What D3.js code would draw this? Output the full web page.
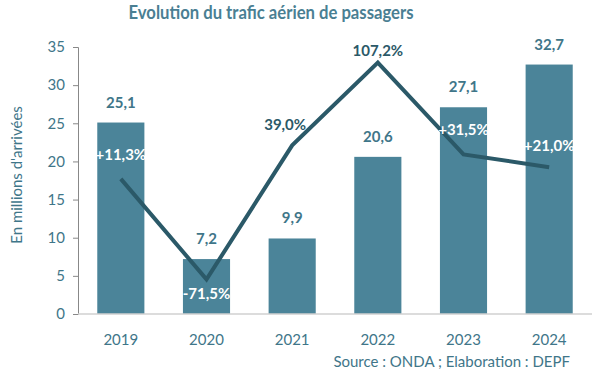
<!DOCTYPE html>
<html>
<head>
<meta charset="utf-8">
<script src="https://cdn.jsdelivr.net/npm/d3@7"></script>
<style>
  body { margin: 0; background: #fff; }
  svg { display: block; font-family: Lato, "Open Sans", sans-serif; }
</style>
</head>
<body>
<svg id="chart" width="600" height="372"></svg>
<script>
const years = ["2019", "2020", "2021", "2022", "2023", "2024"];
const passengers = [25.1, 7.2, 9.9, 20.6, 27.1, 32.7];
const growth = [11.3, -71.5, 39.0, 107.2, 31.5, 21.0];
const growthLabels = ["+11,3%", "-71,5%", "39,0%", "107,2%", "+31,5%", "+21,0%"];
const yTicks = [0, 5, 10, 15, 20, 25, 30, 35];

const barColor = "#4b8499";
const lineColor = "#2b5968";
const textColor = "#3f7689";

const svg = d3.select("#chart");
const margin = { top: 47, right: 8, bottom: 58, left: 78 };
const width = 600;
const height = 372;

const x = d3.scaleBand()
  .domain(years)
  .range([margin.left, width - margin.right])
  .paddingInner(0.45)
  .paddingOuter(0.225);

const y = d3.scaleLinear()
  .domain([0, 35])
  .range([height - margin.bottom, margin.top]);

// hidden secondary axis for the growth line
const y2 = d3.scaleLinear()
  .domain([-100, 120])
  .range([height - margin.bottom, margin.top]);

// title
svg.append("text")
  .attr("x", 271)
  .attr("y", 19)
  .attr("text-anchor", "middle")
  .attr("font-size", 19)
  .attr("font-weight", "bold")
  .attr("fill", "#4a7f93")
  .attr("textLength", 285)
  .attr("lengthAdjust", "spacingAndGlyphs")
  .text("Evolution du trafic aérien de passagers");

// y axis
const yAxis = svg.append("g")
  .attr("transform", `translate(${margin.left},0)`)
  .call(d3.axisLeft(y).tickValues(yTicks).tickSize(5).tickPadding(8));
yAxis.selectAll("path, line").attr("stroke", "#888");
yAxis.selectAll("text")
  .attr("fill", textColor)
  .attr("font-size", 15)
  .attr("font-family", "Lato, sans-serif");

svg.append("text")
  .attr("transform", "translate(22,175) rotate(-90)")
  .attr("text-anchor", "middle")
  .attr("font-size", 15)
  .attr("fill", textColor)
  .text("En millions d'arrivées");

// bars
svg.selectAll(".bar")
  .data(passengers)
  .enter()
  .append("rect")
  .attr("class", "bar")
  .attr("x", (d, i) => x(years[i]))
  .attr("y", (d) => y(d))
  .attr("width", x.bandwidth())
  .attr("height", (d) => y(0) - y(d))
  .attr("fill", barColor);

// baseline
svg.append("line")
  .attr("x1", margin.left)
  .attr("x2", width - margin.right)
  .attr("y1", y(0))
  .attr("y2", y(0))
  .attr("stroke", "#d0d0d0")
  .attr("stroke-width", 1.5);

// x labels
svg.selectAll(".xlab")
  .data(years)
  .enter()
  .append("text")
  .attr("class", "xlab")
  .attr("x", (d) => x(d) + x.bandwidth() / 2)
  .attr("y", y(0) + 31)
  .attr("text-anchor", "middle")
  .attr("font-size", 15)
  .attr("fill", textColor)
  .text((d) => d);

// bar value labels
svg.selectAll(".vlab")
  .data(passengers)
  .enter()
  .append("text")
  .attr("class", "vlab")
  .attr("x", (d, i) => x(years[i]) + x.bandwidth() / 2)
  .attr("y", (d) => y(d) - 15)
  .attr("text-anchor", "middle")
  .attr("font-size", 15)
  .attr("font-weight", "bold")
  .attr("fill", textColor)
  .text((d) => d3.format(".1f")(d).replace(".", ","));

// growth line
const line = d3.line()
  .x((d, i) => x(years[i]) + x.bandwidth() / 2)
  .y((d) => y2(d));

svg.append("path")
  .datum(growth)
  .attr("d", line)
  .attr("fill", "none")
  .attr("stroke", lineColor)
  .attr("stroke-width", 4)
  .attr("stroke-linejoin", "miter");

// growth labels: offsets relative to each point
const labelOffsets = [[0, -19], [0, 20], [-7, -15], [0, -7], [0, -19], [0, -16]];
const labelColors = ["#fff", "#fff", lineColor, lineColor, "#fff", "#fff"];

svg.selectAll(".glab")
  .data(growth)
  .enter()
  .append("text")
  .attr("class", "glab")
  .attr("x", (d, i) => x(years[i]) + x.bandwidth() / 2 + labelOffsets[i][0])
  .attr("y", (d, i) => y2(d) + labelOffsets[i][1])
  .attr("text-anchor", "middle")
  .attr("font-size", 15)
  .attr("font-weight", "bold")
  .attr("fill", (d, i) => labelColors[i])
  .text((d, i) => growthLabels[i]);

// source
svg.append("text")
  .attr("x", 570)
  .attr("y", 367)
  .attr("text-anchor", "end")
  .attr("font-size", 15)
  .attr("fill", textColor)
  .text("Source : ONDA ; Elaboration : DEPF");
</script>
</body>
</html>
